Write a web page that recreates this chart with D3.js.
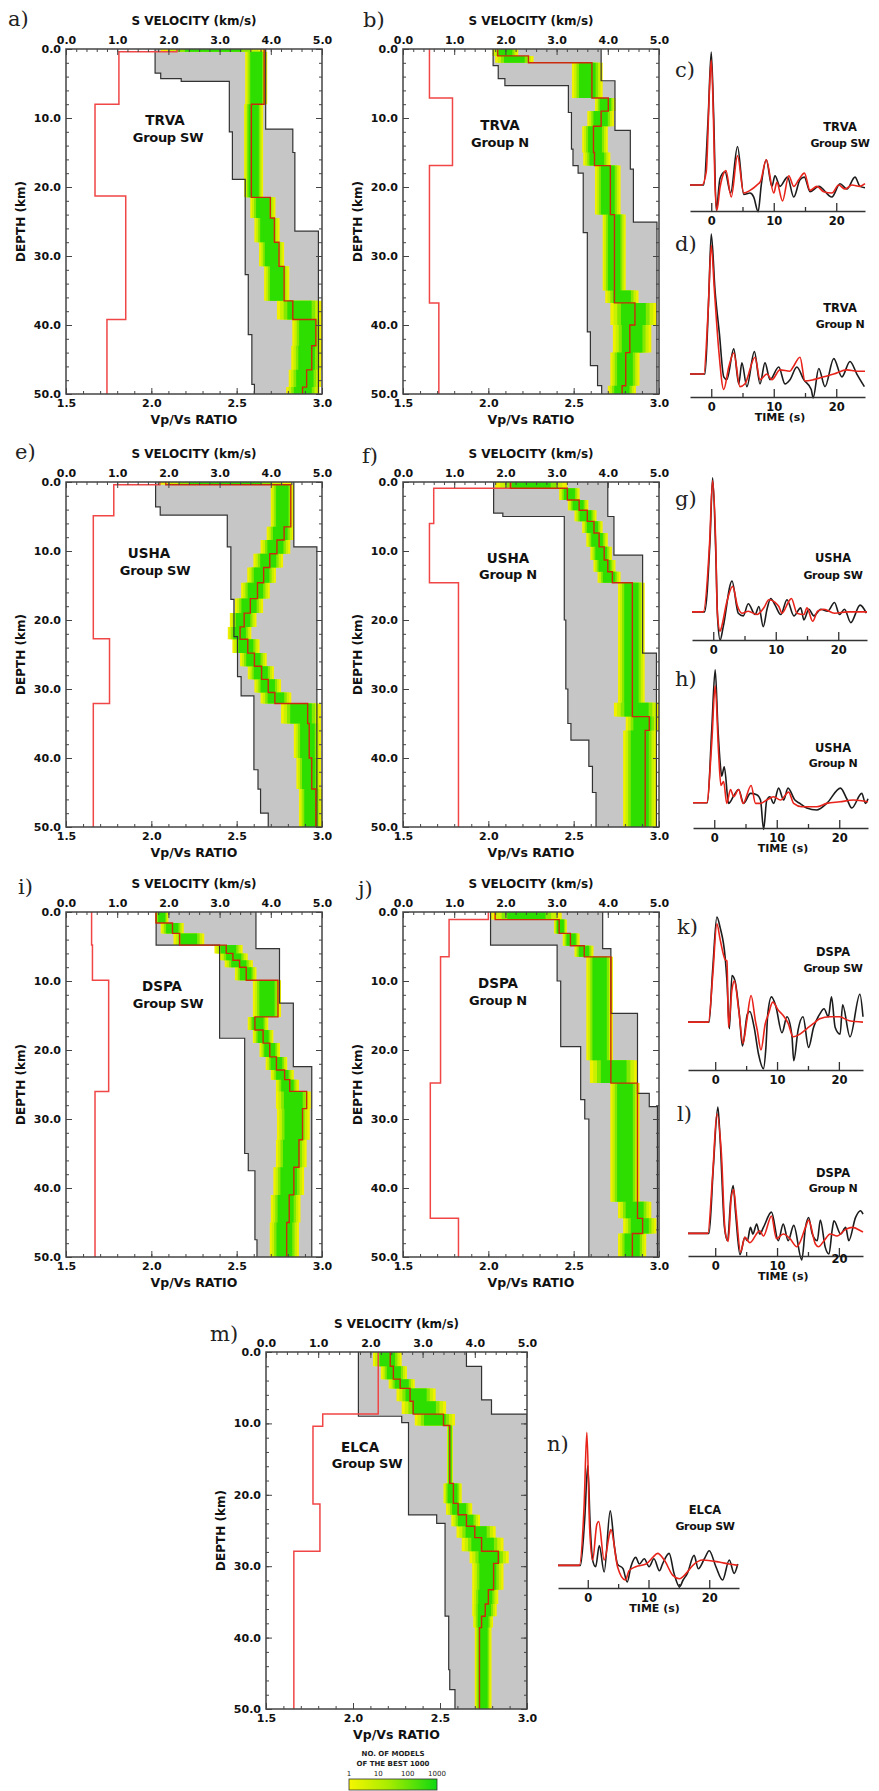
<!DOCTYPE html>
<html lang="en">
<head>
<meta charset="UTF-8">
<title>S velocity models and receiver functions</title>
<script src="https://cdn.jsdelivr.net/npm/d3@7"></script>
<style>
  body { margin: 0; background: #fff; }
  svg { display: block; }
</style>
</head>
<body>
<div id="fig"></div>
<script>
// ---- Vp/Vs ratio of best model: [top depth km, ratio]
const vpvsA = [[0, 2.15], [0.4, 1.81], [8.0, 1.67], [21.3, 1.85], [39.2, 1.74]];
const vpvsB = [[0, 1.655], [7.1, 1.79], [16.9, 1.655], [36.8, 1.71]];
const vpvsE = [[0, 2.05], [0.4, 1.78], [4.9, 1.66], [22.7, 1.755], [32.1, 1.66]];
const vpvsF = [[0, 2.13], [0.9, 1.68], [6, 1.655], [14.6, 1.825]];
const vpvsI = [[0, 1.65], [4.8, 1.655], [9.9, 1.75], [26, 1.67]];
const vpvsJ = [[0, 2.0], [1.1, 1.77], [6.5, 1.72], [24.8, 1.66], [44.4, 1.825]];
const vpvsM = [[0, 2.145], [8.7, 1.826], [10.4, 1.77], [21.3, 1.81], [27.9, 1.66]];

// ---- best S model and spread of best 1000: [top depth, Vs, band low, band high]
const bestA = [[0, 3.87, 1.85, 3.9], [0.4, 3.87, 3.5, 3.93], [8, 3.62, 3.48, 3.85], [21.5, 3.99, 3.6, 4.09],
  [24.5, 4.07, 3.68, 4.17], [28, 4.16, 3.77, 4.26], [31.5, 4.26, 3.87, 4.36], [36.5, 4.43, 4.12, 5.0],
  [39.2, 4.88, 4.42, 5.0], [43, 4.8, 4.4, 5.0], [46.5, 4.7, 4.35, 4.98], [49, 4.62, 4.3, 4.95]];
const bestB = [[0, 1.85, 1.75, 2.25], [1.0, 2.45, 1.8, 2.55], [2.0, 3.69, 3.3, 3.9], [7.1, 4.01, 3.75, 4.15],
  [9, 3.87, 3.6, 4.12], [11.2, 3.72, 3.5, 4.0], [15, 3.74, 3.52, 4.05], [16.9, 4.05, 3.75, 4.25],
  [24, 4.13, 3.9, 4.35], [35, 4.13, 3.95, 4.6], [36.8, 4.53, 4.05, 4.95], [40, 4.43, 4.1, 4.85],
  [44, 4.35, 4.05, 4.62], [48.8, 4.28, 4.0, 4.55]];
const bestE = [[0, 1.95, 1.8, 4.42], [0.4, 4.39, 4.0, 4.45], [6.5, 4.26, 3.92, 4.45], [8.4, 4.12, 3.8, 4.38],
  [10.4, 3.98, 3.66, 4.24], [12.4, 3.86, 3.54, 4.1], [14.6, 3.74, 3.42, 3.98], [16.9, 3.6, 3.3, 3.85],
  [19, 3.48, 3.2, 3.72], [21, 3.4, 3.16, 3.62], [22.8, 3.55, 3.25, 3.78], [24.8, 3.68, 3.4, 3.92],
  [26.7, 3.82, 3.55, 4.06], [28.6, 3.95, 3.68, 4.2], [30.5, 4.08, 3.8, 4.4], [32.1, 4.72, 4.2, 4.98],
  [35, 4.75, 4.45, 4.98], [40, 4.8, 4.5, 4.98], [44.5, 4.88, 4.55, 5.0]];
const bestF = [[0, 2.1, 1.8, 3.21], [0.9, 3.21, 3.05, 3.45], [2.6, 3.44, 3.22, 3.62], [4.1, 3.6, 3.35, 3.78],
  [5.7, 3.73, 3.5, 3.9], [7.4, 3.83, 3.58, 4.0], [9.4, 3.93, 3.66, 4.08], [11.3, 4.0, 3.72, 4.15],
  [13, 4.09, 3.8, 4.25], [14.6, 4.48, 4.2, 4.72], [32, 4.48, 4.12, 5.0], [34, 4.81, 4.35, 5.0],
  [36, 4.73, 4.3, 4.95]];
const bestI = [[0, 1.76, 1.74, 2.0], [1.6, 2.08, 1.85, 2.3], [3.1, 2.22, 2.1, 2.7], [4.8, 3.13, 2.9, 3.45],
  [6, 3.26, 3.0, 3.55], [7, 3.39, 3.1, 3.65], [8, 3.52, 3.3, 3.72], [9.9, 4.14, 3.65, 4.2],
  [15.2, 3.69, 3.55, 3.95], [17.1, 3.85, 3.65, 4.05], [19, 3.98, 3.78, 4.18], [21, 4.11, 3.9, 4.32],
  [22.9, 4.27, 4.0, 4.45], [24.3, 4.37, 4.1, 4.55], [26, 4.7, 4.1, 4.78], [28.5, 4.62, 4.12, 4.76],
  [33, 4.55, 4.1, 4.7], [37, 4.45, 4.05, 4.65], [41, 4.36, 4.0, 4.58], [45, 4.31, 3.98, 4.55]];
const bestJ = [[0, 1.8, 1.72, 3.1], [1.1, 3.05, 2.95, 3.2], [3.1, 3.27, 3.12, 3.45], [4.9, 3.54, 3.35, 3.72],
  [6.5, 4.06, 3.58, 4.1], [21.5, 4.06, 3.65, 4.58], [24.8, 4.58, 4.05, 4.62], [42, 4.58, 4.2, 4.85],
  [44.4, 4.68, 4.3, 4.95], [46.6, 4.48, 4.2, 4.75]];
const bestM = [[0, 2.38, 2.05, 2.6], [2, 2.44, 2.2, 2.7], [3.8, 2.57, 2.35, 2.85], [5.1, 2.76, 2.5, 3.25],
  [6.9, 2.82, 2.6, 3.45], [8.7, 3.4, 2.85, 3.62], [10.3, 3.52, 3.47, 3.58], [18.4, 3.59, 3.4, 3.75],
  [21.2, 3.68, 3.45, 3.95], [22.8, 3.84, 3.55, 4.1], [24.4, 4.0, 3.65, 4.4], [26, 4.13, 3.75, 4.55],
  [27.9, 4.45, 3.9, 4.65], [29.6, 4.36, 3.95, 4.55], [33.3, 4.26, 3.95, 4.45], [35.3, 4.2, 3.95, 4.42],
  [37, 4.13, 3.97, 4.35], [38.6, 4.09, 4.0, 4.32]];

// ---- range of all tested models: [top depth, Vs] left and right edges
const grayLoA = [[0, 1.74], [3.5, 1.85], [4.3, 2.25], [4.7, 3.19], [12, 3.25], [18.9, 3.5], [32.7, 3.56], [41.4, 3.63], [48.6, 3.68]];
const grayHiA = [[0, 3.9], [11.6, 4.43], [15, 4.47], [26.4, 4.93]];
const grayLoB = [[0, 1.76], [2.4, 1.86], [4.3, 1.99], [5.3, 3.23], [9.2, 3.29], [14.5, 3.32], [16.9, 3.42], [18, 3.52], [26.6, 3.6], [41, 3.66], [45.9, 3.8], [48.8, 3.88]];
const grayHiB = [[0, 3.87], [4.6, 4.14], [11.8, 4.44], [17.4, 4.5], [25.1, 4.96]];
const grayLoE = [[0, 1.75], [3.6, 1.84], [4.8, 3.15], [9.4, 3.22], [17, 3.28], [22.4, 3.35], [28.2, 3.42], [31, 3.67], [41.7, 3.75], [44.5, 3.8], [48, 3.95]];
const grayHiE = [[0, 4.45], [9.4, 4.9]];
const grayLoF = [[0, 1.77], [4.5, 1.95], [5, 3.15], [20, 3.18], [30, 3.22], [35, 3.28], [37.4, 3.63], [41.2, 3.7], [45, 3.77]];
const grayHiF = [[0, 4.0], [5, 4.12], [10.6, 4.68], [24.8, 4.95]];
const grayLoI = [[0, 1.76], [4.8, 3.0], [18.3, 3.49], [35, 3.56], [37.5, 3.69], [47.5, 3.73]];
const grayHiI = [[0, 3.71], [5.3, 4.17], [13.2, 4.44], [22.4, 4.8]];
const grayLoJ = [[0, 1.71], [4.8, 3.01], [10, 3.08], [19.5, 3.47], [27.2, 3.55], [30, 3.63]];
const grayHiJ = [[0, 3.9], [5.3, 4.06], [14.7, 4.58], [26.3, 4.81], [28.2, 4.97]];
const grayLoM = [[0, 1.77], [9, 2.6], [9.9, 2.73], [22.8, 3.27], [24, 3.43], [37, 3.5], [44.5, 3.52], [47.3, 3.62]];
const grayHiM = [[0, 3.84], [2, 4.13], [6.7, 4.32], [8.7, 5.0]];

// ---- receiver functions [time s, amplitude]: observed (black) and synthetic (red)
const rfObsC = [[-3.4, 0], [-1.2, 0], [-0.5, 0.5], [0, 1.0], [0.4, 0.5], [0.8, -0.19], [1.4, 0.05], [2.2, 0.1], [3.1, -0.06], [4.2, 0.29], [5.2, -0.07], [6.2, -0.06], [6.8, -0.09], [7.5, -0.2], [8.0, 0], [8.8, 0.19], [9.7, -0.01], [10.2, 0.07], [11.0, -0.01], [12.2, 0.06], [13.2, -0.09], [14.2, 0.04], [14.9, 0.06], [15.8, -0.05], [17.2, -0.01], [19.3, -0.09], [20.6, 0.01], [21.7, -0.03], [23.0, 0.06], [23.8, -0.01], [24.6, -0.02]];
const rfSynC = [[-3.4, 0], [-1.5, 0], [-0.8, 0.1], [-0.3, 0.7], [0, 0.94], [0.35, 0.5], [0.6, 0], [0.9, -0.19], [1.4, -0.02], [2.0, 0.09], [2.35, 0.11], [3.2, -0.09], [4.2, 0.22], [5.2, -0.06], [6.2, -0.04], [7.3, 0], [7.9, 0.03], [8.8, 0.19], [10, -0.06], [10.5, 0.02], [11.4, -0.12], [12.4, 0.07], [13.2, -0.01], [14.0, 0.04], [14.9, 0.09], [15.8, -0.04], [16.9, -0.01], [18, -0.05], [19.3, -0.06], [20.4, 0], [21.4, -0.03], [22.5, 0], [23.8, -0.01], [24.6, 0.01]];
const rfObsD = [[-3.4, 0], [-1.0, 0], [-0.4, 0.55], [0, 1.0], [0.6, 0.6], [1.3, 0.29], [2.0, -0.02], [2.5, -0.04], [3.6, 0.18], [4.4, -0.07], [4.9, 0.08], [5.7, -0.09], [6.9, 0.16], [7.8, -0.07], [8.6, 0.08], [9.4, -0.04], [10.8, 0.05], [11.8, -0.07], [12.6, -0.04], [13.7, 0.05], [14.8, -0.04], [16.0, -0.11], [16.3, -0.17], [17.2, 0.04], [18.2, -0.09], [19.6, 0.11], [20.9, -0.02], [22.2, 0.09], [23.3, 0.0], [24.5, -0.09]];
const rfSynD = [[-3.4, 0], [-1.2, 0], [-0.5, 0.45], [0, 0.92], [0.5, 0.6], [1.2, 0.17], [2.0, -0.11], [2.8, 0.05], [3.6, 0.15], [4.6, -0.09], [5.4, -0.07], [7.0, 0.12], [7.8, -0.04], [8.9, 0.0], [9.7, -0.04], [11.0, 0.03], [12.6, 0.02], [13.1, 0.05], [14.2, 0.12], [15.0, -0.05], [16.4, -0.04], [18.0, -0.02], [19.6, 0.0], [21.7, 0.03], [23.3, 0.02], [24.6, 0.02]];
const rfObsG = [[-3.4, 0], [-1.4, 0], [-0.5, 0.55], [-0.1, 1.0], [0.4, 0.45], [0.7, -0.05], [1.1, -0.21], [1.6, -0.11], [3.0, 0.23], [4.0, -0.01], [4.8, -0.03], [5.6, 0.06], [6.7, -0.02], [7.3, 0.04], [8.0, -0.11], [8.6, 0.02], [9.2, 0.1], [9.9, 0.05], [10.8, -0.02], [11.8, 0.09], [12.9, -0.03], [14.0, 0.03], [14.5, -0.06], [15.3, 0.02], [16.1, -0.03], [17.2, 0.02], [18.3, 0.005], [19.4, 0.07], [20.2, -0.02], [21.0, 0.02], [22.0, -0.08], [23.5, 0.05], [24.5, -0.01]];
const rfSynG = [[-3.4, 0], [-1.6, 0], [-0.6, 0.5], [-0.1, 0.98], [0.4, 0.5], [0.65, 0], [1.1, -0.145], [1.35, -0.11], [2.15, 0.07], [3.1, 0.19], [3.9, 0.04], [4.6, -0.01], [5.6, 0.005], [7.0, -0.02], [8.1, 0.03], [8.9, 0.09], [9.9, 0.07], [10.5, 0.04], [11.0, -0.01], [12.1, 0.08], [12.5, 0.1], [13.4, -0.01], [14.5, -0.02], [15.0, 0.03], [15.9, -0.07], [16.7, 0.005], [17.7, 0.02], [19.4, -0.01], [21.5, 0], [24.6, 0]];
const rfObsH = [[-3.4, 0], [-1.1, 0], [-0.4, 0.55], [0.15, 1.0], [0.6, 0.55], [1.0, 0.27], [1.2, 0.2], [1.6, 0.27], [2.3, -0.005], [3.1, 0.05], [3.9, 0.1], [4.7, -0.005], [5.8, 0.07], [6.8, 0.06], [7.4, 0.02], [7.9, -0.2], [8.4, 0.02], [8.9, 0.045], [9.5, -0.005], [10.3, 0.11], [11.1, 0.02], [11.8, 0.11], [12.9, 0.02], [13.7, -0.005], [14.8, -0.04], [16.4, -0.055], [18.0, -0.005], [20.2, 0.11], [21.2, 0.03], [22.0, -0.04], [23.6, 0.07], [24.2, -0.005], [24.6, 0.03]];
const rfSynH = [[-3.4, 0], [-1.2, 0], [-0.4, 0.45], [0.15, 0.88], [0.7, 0.37], [1.07, 0.13], [1.5, 0.16], [2.0, -0.005], [2.6, 0.1], [3.1, 0.045], [3.9, 0.1], [4.6, -0.005], [5.9, 0.13], [6.6, -0.005], [7.4, -0.005], [8.4, 0.02], [9.5, 0.045], [10.6, 0.02], [11.9, 0.08], [12.7, -0.005], [14.0, -0.03], [15.4, -0.03], [16.4, -0.03], [18.0, -0.005], [20.1, 0.007], [22.3, 0.02], [24.6, 0.007]];
const rfObsK = [[-4.4, 0], [-1.0, 0], [-0.4, 0.4], [0.27, 0.79], [0.8, 0.71], [1.6, 0.49], [1.9, 0.31], [2.3, -0.05], [2.7, 0.35], [3.2, 0.31], [3.9, 0.06], [4.4, -0.18], [5.2, 0.06], [5.6, 0.08], [6.3, -0.04], [7.0, -0.24], [7.8, -0.35], [8.2, -0.19], [8.5, 0.06], [9.1, 0.19], [9.8, 0.12], [10.8, -0.08], [11.6, 0.04], [12.4, -0.1], [12.7, -0.29], [13.4, -0.06], [14.2, 0.04], [15.1, -0.19], [15.9, -0.04], [16.9, 0.06], [17.6, 0.1], [18.3, 0.04], [18.8, 0.19], [19.4, -0.04], [20.2, -0.09], [20.6, 0.13], [21.8, -0.11], [23.4, 0.21], [23.9, 0.04]];
const rfSynK = [[-4.4, 0], [-1.1, 0], [-0.4, 0.35], [0.27, 0.74], [0.8, 0.62], [1.6, 0.47], [1.9, 0.46], [2.15, -0.04], [2.7, 0.24], [3.1, 0.31], [3.8, 0.09], [4.5, -0.16], [5.1, 0.01], [5.8, 0.2], [6.5, 0.01], [6.8, -0.06], [7.4, -0.21], [8.1, -0.01], [8.6, 0.06], [9.3, 0.15], [10.2, 0.09], [11.0, 0.05], [11.8, -0.01], [12.6, -0.11], [13.7, -0.09], [14.8, -0.05], [15.9, -0.01], [16.9, 0.025], [18.5, 0.04], [20.1, 0.04], [21.7, 0.01], [23.9, 0]];
const rfObsL = [[-4.4, 0], [-1.0, 0], [-0.3, 0.5], [0.43, 0.95], [0.8, 0.7], [1.5, 0.045], [2.0, -0.055], [2.5, 0.25], [2.9, 0.36], [3.3, 0.15], [4.0, -0.16], [4.8, -0.03], [5.2, -0.055], [5.7, 0.045], [6.1, -0.005], [6.7, 0.07], [7.2, -0.005], [7.8, 0.045], [9.1, 0.16], [10.2, -0.055], [11.0, 0.07], [11.8, -0.055], [12.7, 0.06], [14.0, -0.2], [14.6, 0.045], [15.1, 0.12], [15.7, -0.005], [16.5, -0.055], [17.0, 0.1], [17.8, -0.105], [18.4, -0.155], [18.9, 0.02], [19.2, 0.095], [20.3, -0.005], [21.1, 0.045], [21.6, -0.055], [22.7, 0.12], [23.5, 0.17], [23.9, 0.145]];
const rfSynL = [[-4.4, 0], [-1.2, 0], [-0.4, 0.45], [0.27, 0.9], [1.0, 0.6], [1.6, 0.02], [2.1, -0.06], [2.6, 0.27], [3.0, 0.33], [3.4, 0.15], [4.1, -0.14], [4.8, -0.03], [5.6, -0.07], [7.2, 0.02], [7.8, -0.02], [9.1, 0.13], [9.9, -0.04], [11.0, -0.005], [12.1, -0.04], [13.2, -0.1], [14.6, 0.045], [15.1, 0.1], [16.2, -0.08], [16.7, -0.1], [17.6, -0.055], [18.6, -0.005], [19.7, -0.02], [21.1, 0.03], [22.2, 0.045], [23.5, 0.02], [23.9, 0.01]];
const rfObsN = [[-4.9, 0], [-1.2, 0], [-0.5, 0.35], [0, 0.75], [0.4, 0.3], [0.8, 0.04], [1.3, -0.01], [1.9, 0.15], [2.7, -0.05], [3.7, 0.41], [4.4, 0.14], [4.9, 0.01], [5.8, -0.025], [6.5, -0.125], [7.1, -0.01], [7.9, 0.06], [8.5, 0.01], [9.3, 0.05], [10.1, -0.01], [10.9, 0.05], [11.8, -0.04], [12.3, 0.01], [13.4, 0.09], [14.2, -0.06], [15.1, -0.16], [15.7, -0.11], [16.4, -0.06], [17.5, 0.075], [18.2, -0.025], [19.2, 0.05], [20.0, 0.11], [21.1, -0.01], [22.2, -0.11], [23.3, 0.04], [24.1, -0.06], [24.7, 0.01]];
const rfSynN = [[-4.9, 0], [-1.4, 0], [-0.6, 0.45], [-0.15, 1.0], [0.3, 0.29], [0.8, 0.04], [1.5, 0.31], [1.8, 0.33], [2.7, 0.04], [3.6, 0.24], [3.8, 0.27], [4.9, -0.01], [6.2, -0.11], [6.8, -0.04], [7.9, -0.01], [9.6, 0.01], [10.7, 0.06], [11.5, 0.09], [12.6, 0.04], [14.0, -0.075], [15.1, -0.1], [16.2, -0.06], [17.3, 0], [18.9, 0.04], [21.6, 0.025], [23.3, 0.01], [24.7, 0]];

// ---- axis ticks and legend
const vsTicks = [0, 1, 2, 3, 4, 5];
const ratioTicks = [1.5, 2.0, 2.5, 3.0];
const depthTicks = [0, 10, 20, 30, 40, 50];
const timeTicks = [0, 10, 20];
const legendTicks = [1, 10, 100, 1000];

const FONT = "'DejaVu Sans', Verdana, sans-serif";
const SERIF = "'DejaVu Serif', 'Liberation Serif', serif";

const models = [
  { id: "a", left: 66, top: 49, w: 256, h: 345, letter: [8, 26], name: ["TRVA", 165, 125], group: ["Group SW", 168, 142], vpvs: vpvsA, best: bestA, lo: grayLoA, hi: grayHiA },
  { id: "b", left: 403, top: 49, w: 256, h: 345, letter: [363, 27], name: ["TRVA", 500, 130], group: ["Group N", 500, 147], vpvs: vpvsB, best: bestB, lo: grayLoB, hi: grayHiB },
  { id: "e", left: 66, top: 482, w: 256, h: 345, letter: [15, 459], name: ["USHA", 149, 558], group: ["Group SW", 155, 575], vpvs: vpvsE, best: bestE, lo: grayLoE, hi: grayHiE },
  { id: "f", left: 403, top: 482, w: 256, h: 345, letter: [362, 463], name: ["USHA", 508, 563], group: ["Group N", 508, 579], vpvs: vpvsF, best: bestF, lo: grayLoF, hi: grayHiF },
  { id: "i", left: 66, top: 912, w: 256, h: 345, letter: [18, 894], name: ["DSPA", 162, 991], group: ["Group SW", 168, 1008], vpvs: vpvsI, best: bestI, lo: grayLoI, hi: grayHiI },
  { id: "j", left: 403, top: 912, w: 256, h: 345, letter: [358, 896], name: ["DSPA", 498, 988], group: ["Group N", 498, 1005], vpvs: vpvsJ, best: bestJ, lo: grayLoJ, hi: grayHiJ },
  { id: "m", left: 266, top: 1352, w: 261, h: 357, letter: [210, 1341], name: ["ELCA", 360, 1452], group: ["Group SW", 367, 1468], vpvs: vpvsM, best: bestM, lo: grayLoM, hi: grayHiM }
];

const rfPanels = [
  { id: "c", x0: 690, x1: 865, t: [-3.4, 24.6], axisY: 211, amp0: -0.195, px: 133, letter: [675, 77], tx: 840, name: ["TRVA", 131], group: ["Group SW", 147], time: false, obs: rfObsC, syn: rfSynC },
  { id: "d", x0: 690, x1: 865, t: [-3.4, 24.6], axisY: 397, amp0: -0.164, px: 140, letter: [675, 251], tx: 840, name: ["TRVA", 312], group: ["Group N", 328], time: true, obs: rfObsD, syn: rfSynD },
  { id: "g", x0: 692, x1: 867, t: [-3.4, 24.6], axisY: 640, amp0: -0.21, px: 134, letter: [675, 506], tx: 833, name: ["USHA", 562], group: ["Group SW", 579], time: false, obs: rfObsG, syn: rfSynG },
  { id: "h", x0: 693, x1: 868, t: [-3.4, 24.6], axisY: 828, amp0: -0.19, px: 133, letter: [675, 686], tx: 833, name: ["USHA", 752], group: ["Group N", 767], time: true, obs: rfObsH, syn: rfSynH },
  { id: "k", x0: 688, x1: 863, t: [-4.4, 23.9], axisY: 1070, amp0: -0.36, px: 133, letter: [677, 934], tx: 833, name: ["DSPA", 956], group: ["Group SW", 972], time: false, obs: rfObsK, syn: rfSynK },
  { id: "l", x0: 688, x1: 863, t: [-4.4, 23.9], axisY: 1256, amp0: -0.17, px: 133, letter: [677, 1121], tx: 833, name: ["DSPA", 1177], group: ["Group N", 1192], time: true, obs: rfObsL, syn: rfSynL },
  { id: "n", x0: 558, x1: 739, t: [-4.9, 24.9], axisY: 1588, amp0: -0.17, px: 133, letter: [547, 1451], tx: 705, name: ["ELCA", 1514], group: ["Group SW", 1530], time: true, obs: rfObsN, syn: rfSynN }
];

const svg = d3.select("#fig").append("svg").attr("width", 879).attr("height", 1791);
const defs = svg.append("defs");
defs.append("filter").attr("id", "soft").append("feGaussianBlur").attr("stdDeviation", 0.7);

// step profile -> list of [value, depth] corner points
function layerPts(rows, val) {
  const pts = [];
  rows.forEach((r, i) => {
    const next = i + 1 < rows.length ? rows[i + 1][0] : 50;
    const v = val(r);
    pts.push([v, r[0]], [v, next]);
  });
  return pts;
}

function styleAxis(a) {
  a.select(".domain").remove();
  a.selectAll(".tick line").attr("stroke", "#444").attr("stroke-width", 1);
  a.selectAll("text").attr("font-family", FONT).attr("font-weight", "bold")
    .attr("font-size", 11).attr("fill", "#111");
}

function drawModel(p) {
  const g = svg.append("g");
  const x = d3.scaleLinear().domain([0, 5]).range([p.left, p.left + p.w]);
  const xr = d3.scaleLinear().domain([1.5, 3.0]).range([p.left, p.left + p.w]);
  const y = d3.scaleLinear().domain([0, 50]).range([p.top, p.top + p.h]);
  const line = d3.line().x(d => x(d[0])).y(d => y(d[1]));

  defs.append("clipPath").attr("id", "clip-" + p.id)
    .append("rect").attr("x", p.left).attr("y", p.top).attr("width", p.w).attr("height", p.h);
  const body = g.append("g").attr("clip-path", `url(#clip-${p.id})`);

  // all models range
  const loPts = layerPts(p.lo, r => r[1]);
  const hiPts = layerPts(p.hi, r => r[1]);
  body.append("path").attr("d", line(loPts.concat(hiPts.slice().reverse())) + "Z")
    .attr("fill", "#c6c6c6");

  // best 1000 band, yellow edges to green core
  const band = body.append("g").attr("filter", "url(#soft)");
  const shades = [[0, "#f0f000"], [0.07, "#c8f000"], [0.15, "#84e800"], [0.23, "#2fde00"]];
  shades.forEach(([f, c]) => {
    const l = layerPts(p.best, r => r[2] + f * (r[3] - r[2]));
    const h = layerPts(p.best, r => r[3] - f * (r[3] - r[2]));
    band.append("path").attr("d", line(l.concat(h.reverse())) + "Z").attr("fill", c);
  });

  [loPts, hiPts].forEach(pts => {
    body.append("path").attr("d", line(pts)).attr("fill", "none")
      .attr("stroke", "#333").attr("stroke-width", 1.2);
  });

  // Vp/Vs of best model
  body.append("path")
    .attr("d", d3.line().x(d => xr(d[0])).y(d => y(d[1]))(layerPts(p.vpvs, r => r[1])))
    .attr("fill", "none").attr("stroke", "#f04646").attr("stroke-width", 1.5);

  // best S model
  body.append("path").attr("d", line(layerPts(p.best, r => r[1])))
    .attr("fill", "none").attr("stroke", "#cc2a0c").attr("stroke-width", 1.4);

  g.append("rect").attr("x", p.left).attr("y", p.top).attr("width", p.w).attr("height", p.h)
    .attr("fill", "none").attr("stroke", "#444").attr("stroke-width", 1.5);

  // ticks pointing inward on all four sides
  const top = `translate(0,${p.top})`, bot = `translate(0,${p.top + p.h})`;
  const lft = `translate(${p.left},0)`, rgt = `translate(${p.left + p.w},0)`;
  const minor = (gen, vals) => gen.tickValues(vals).tickSize(-3).tickFormat("");
  styleAxis(g.append("g").attr("transform", top).call(minor(d3.axisTop(x), d3.range(0, 5.01, 0.2))));
  styleAxis(g.append("g").attr("transform", top).call(
    d3.axisTop(x).tickValues(vsTicks).tickSize(-6).tickPadding(5).tickFormat(d3.format(".1f"))));
  styleAxis(g.append("g").attr("transform", bot).call(minor(d3.axisBottom(xr), d3.range(1.5, 3.01, 0.1))));
  styleAxis(g.append("g").attr("transform", bot).call(
    d3.axisBottom(xr).tickValues(ratioTicks).tickSize(-6).tickPadding(5).tickFormat(d3.format(".1f"))));
  styleAxis(g.append("g").attr("transform", lft).call(minor(d3.axisLeft(y), d3.range(0, 50.1, 2))));
  styleAxis(g.append("g").attr("transform", lft).call(
    d3.axisLeft(y).tickValues(depthTicks).tickSize(-6).tickPadding(5).tickFormat(d3.format(".1f"))));
  styleAxis(g.append("g").attr("transform", rgt).call(minor(d3.axisRight(y), d3.range(0, 50.1, 2))));
  styleAxis(g.append("g").attr("transform", rgt).call(
    d3.axisRight(y).tickValues(depthTicks).tickSize(-6).tickFormat("")));

  const cx = p.left + p.w / 2;
  const txt = (s, tx, ty, size) => g.append("text").attr("x", tx).attr("y", ty).text(s)
    .attr("font-family", FONT).attr("font-weight", "bold").attr("font-size", size)
    .attr("text-anchor", "middle").attr("fill", "#111");
  txt("S VELOCITY (km/s)", cx, p.top - 24, 12);
  txt("Vp/Vs RATIO", cx, p.top + p.h + 30, 12.5);
  txt("DEPTH (km)", 0, 0, 12).attr("transform", `translate(${p.left - 41},${p.top + p.h / 2}) rotate(-90)`);
  txt(p.name[0], p.name[1], p.name[2], 13.5);
  txt(p.group[0], p.group[1], p.group[2], 13).attr("letter-spacing", -0.3);
  g.append("text").attr("x", p.letter[0]).attr("y", p.letter[1]).text(p.id + ")")
    .attr("font-family", SERIF).attr("font-size", 21).attr("fill", "#222");
}

function drawRF(p) {
  const g = svg.append("g");
  const x = d3.scaleLinear().domain(p.t).range([p.x0, p.x1]);
  const y = d3.scaleLinear().domain([p.amp0, 1]).range([p.axisY, p.axisY - (1 - p.amp0) * p.px]);
  const line = d3.line().x(d => x(d[0])).y(d => y(d[1])).curve(d3.curveMonotoneX);

  g.append("path").attr("d", line(p.obs)).attr("fill", "none")
    .attr("stroke", "#1c1c1c").attr("stroke-width", 1.6);
  g.append("path").attr("d", line(p.syn)).attr("fill", "none")
    .attr("stroke", "#e8231a").attr("stroke-width", 1.6);

  const ax = g.append("g").attr("transform", `translate(0,${p.axisY})`)
    .call(d3.axisBottom(x).tickValues(timeTicks).tickSize(-8).tickSizeOuter(0).tickPadding(6));
  ax.select(".domain").attr("stroke", "#333").attr("stroke-width", 1.6);
  ax.selectAll(".tick line").attr("stroke", "#333").attr("stroke-width", 1.3);
  ax.selectAll("text").attr("font-family", FONT).attr("font-weight", "bold")
    .attr("font-size", 11.5).attr("fill", "#111");
  g.append("g").attr("transform", `translate(0,${p.axisY})`)
    .call(d3.axisBottom(x).tickValues([5, 15]).tickSize(-4).tickFormat(""))
    .call(a => a.select(".domain").remove())
    .selectAll(".tick line").attr("stroke", "#333").attr("stroke-width", 1.3);
  if (p.id === "l") ax.selectAll(".tick text").filter(d => d === 20).attr("y", -1);

  const txt = (s, tx, ty, size) => g.append("text").attr("x", tx).attr("y", ty).text(s)
    .attr("font-family", FONT).attr("font-weight", "bold").attr("font-size", size)
    .attr("text-anchor", "middle").attr("fill", "#111");
  txt(p.name[0], p.tx, p.name[1], 11.5);
  txt(p.group[0], p.tx, p.group[1], 11).attr("letter-spacing", -0.3);
  if (p.time) txt("TIME (s)", x(11), p.axisY + 24, 11);
  g.append("text").attr("x", p.letter[0]).attr("y", p.letter[1]).text(p.id + ")")
    .attr("font-family", SERIF).attr("font-size", 21).attr("fill", "#222");
}

models.forEach(drawModel);
rfPanels.forEach(drawRF);

// colour legend: number of models of the best 1000
const lg = svg.append("g");
const grad = defs.append("linearGradient").attr("id", "legend-grad");
grad.append("stop").attr("offset", "0%").attr("stop-color", "#f6f600");
grad.append("stop").attr("offset", "45%").attr("stop-color", "#a8ec00");
grad.append("stop").attr("offset", "100%").attr("stop-color", "#10d810");
const lx = d3.scaleLog().domain([1, 1000]).range([349, 437]);
lg.append("rect").attr("x", 349).attr("y", 1779).attr("width", 88).attr("height", 11)
  .attr("fill", "url(#legend-grad)").attr("stroke", "#333").attr("stroke-width", 0.8);
lg.selectAll("text.lt").data(legendTicks).join("text").attr("class", "lt")
  .attr("x", d => lx(d)).attr("y", 1776).text(d => d)
  .attr("font-family", FONT).attr("font-size", 7).attr("text-anchor", "middle").attr("fill", "#222");
[["NO. OF MODELS", 1756], ["OF THE BEST 1000", 1766]].forEach(([s, ty]) => {
  lg.append("text").attr("x", 393).attr("y", ty).text(s)
    .attr("font-family", FONT).attr("font-weight", "bold").attr("font-size", 7)
    .attr("text-anchor", "middle").attr("fill", "#222");
});
</script>
</body>
</html>
